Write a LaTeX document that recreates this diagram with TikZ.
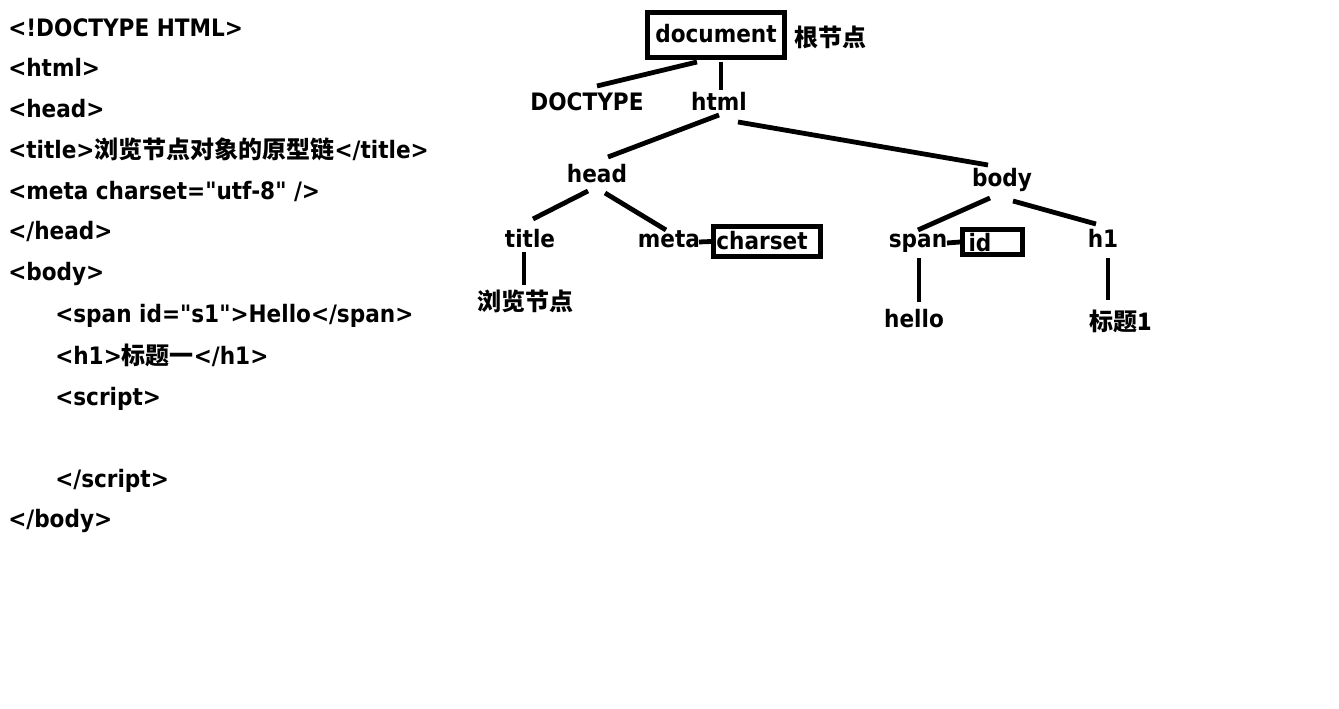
\documentclass[tikz,border=0pt]{standalone}
\usepackage{fontspec}
\setmainfont{DejaVu Sans}[FakeStretch=0.9,Ligatures=TeXOff]
\newfontfamily\cjk{Noto Sans CJK SC}
\newcommand\zh[1]{{\cjk\bfseries #1}}
\begin{document}
\begin{tikzpicture}[x=0.75pt,y=-0.75pt,
  every node/.style={font=\bfseries\fontsize{18}{18}\selectfont},
  lbl/.style={anchor=base,inner sep=0pt},
  code/.style={anchor=base west,inner sep=0pt},
  conn/.style={line width=3.6pt},
  frame/.style={draw,line width=3.4pt,inner sep=0pt}]
\fill[white] (0,0) rectangle (1339,709);
\useasboundingbox (0,0) rectangle (1339,709);
% code listing
\node[code] (l1) at (8,37) {<!DOCTYPE HTML>};
\node[code] (l2) at (8,77) {<html>};
\node[code] (l3) at (8,118) {<head>};
\node[code] (l4) at (8,159) {<title>\zh{浏览节点对象的原型链}</title>};
\node[code] (l5) at (8,200) {<meta charset="utf-8" />};
\node[code] (l6) at (8,240) {</head>};
\node[code] (l7) at (8,281) {<body>};
\node[code] (l8) at (55,323) {<span id="s1">Hello</span>};
\node[code] (l9) at (55,364) {<h1>\zh{标题一}</h1>};
\node[code] (l10) at (55,405) {<script>};
\node[code] (l11) at (55,487) {</script>};
\node[code] (l12) at (8,527) {</body>};
% boxes
\node[frame,minimum width=137*0.75pt,minimum height=45*0.75pt] (docbox) at (716,35) {};
\node[frame,minimum width=107*0.75pt,minimum height=30*0.75pt] (csbox) at (767,241.5) {};
\node[frame,minimum width=60*0.75pt,minimum height=25*0.75pt] (idbox) at (992.5,242) {};
% tree labels
\node[lbl] (doc) at (716,43) {document};
\node[lbl] (root) at (830,47) {\zh{根节点}};
\node[lbl] (doctype) at (587,111) {DOCTYPE};
\node[lbl] (html) at (719,111) {html};
\node[lbl] (head) at (597,183) {head};
\node[lbl] (body) at (1002,187) {body};
\node[lbl] (title) at (530,248) {title};
\node[lbl] (meta) at (669,248) {meta};
\node[lbl] (charset) at (762,250) {charset};
\node[lbl] (lan) at (525,311) {\zh{浏览节点}};
\node[lbl] (span) at (918,248) {span};
\node[lbl] (id) at (980,252) {id};
\node[lbl] (h1) at (1103,248) {h1};
\node[lbl] (hello) at (914,328) {hello};
\node[lbl] (bt) at (1121,330) {\zh{标题1}};
% connectors
\draw[conn] ([shift={(-19,19)}]doc.base) -- ([shift={(10,-25)}]doctype.base);
\draw[conn] ([shift={(5,19)}]doc.base) -- ([shift={(2,-21)}]html.base);
\draw[conn] ([shift={(0,4)}]html.base) -- ([shift={(11,-26)}]head.base);
\draw[conn] ([shift={(19,11)}]html.base) -- ([shift={(-14,-22)}]body.base);
\draw[conn] ([shift={(-9,8)}]head.base) -- ([shift={(3,-29)}]title.base);
\draw[conn] ([shift={(8,10)}]head.base) -- ([shift={(-3,-18)}]meta.base);
\draw[conn] ([shift={(30,-6)}]meta.base) -- (csbox.west);
\draw[conn] ([shift={(-6,4)}]title.base) -- ([shift={(-1,-26)}]lan.base);
\draw[conn] ([shift={(-12,11)}]body.base) -- ([shift={(0,-18)}]span.base);
\draw[conn] ([shift={(11,14)}]body.base) -- ([shift={(-7,-24)}]h1.base);
\draw[conn] ([shift={(29,-5)}]span.base) -- (idbox.west);
\draw[conn] ([shift={(1,10)}]span.base) -- ([shift={(5,-26)}]hello.base);
\draw[conn] ([shift={(5,10)}]h1.base) -- ([shift={(-13,-30)}]bt.base);
\end{tikzpicture}
\end{document}
